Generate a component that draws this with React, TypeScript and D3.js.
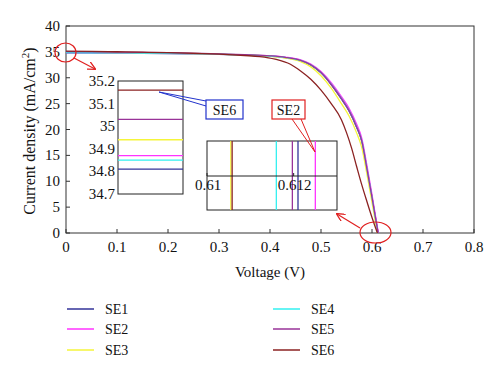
import React from "react";
import * as d3 from "d3";

const seriesNames = ["SE1", "SE2", "SE3", "SE4", "SE5", "SE6"];
const seriesColors = ["#333399", "#ff33ff", "#f5f53a", "#33f0f0", "#993399", "#8b2222"];

const voltagesA = [0, 0.05, 0.1, 0.15, 0.2, 0.25, 0.3, 0.35, 0.4, 0.43, 0.46, 0.48, 0.5, 0.52, 0.54, 0.555, 0.57, 0.58, 0.59, 0.6, 0.605];
const voltagesB = [0, 0.05, 0.1, 0.15, 0.2, 0.25, 0.3, 0.35, 0.38, 0.41, 0.44, 0.46, 0.48, 0.5, 0.52, 0.54, 0.55, 0.56, 0.57, 0.58, 0.59, 0.6];

const vocs = [0.6121, 0.6125, 0.61055, 0.6116, 0.61197, 0.61058];

const jSE1 = [34.81, 34.79, 34.76, 34.73, 34.68, 34.6, 34.5, 34.36, 34.16, 33.88, 33.3, 32.45, 30.95, 28.7, 25.9, 23.6, 20.4, 17.7, 12.4, 6.9, 4.0, 0];
const jSE2 = [34.87, 34.85, 34.82, 34.79, 34.74, 34.67, 34.57, 34.43, 34.24, 33.98, 33.45, 32.65, 31.2, 29.05, 26.35, 24.1, 21.0, 18.3, 13.1, 7.4, 4.4, 0];
const jSE3 = [34.94, 34.91, 34.87, 34.83, 34.77, 34.69, 34.57, 34.4, 34.15, 33.8, 33.1, 32.1, 30.4, 28.0, 25.0, 22.6, 19.3, 16.5, 11.4, 5.9, 3.1, 0];
const jSE4 = [34.85, 34.83, 34.8, 34.77, 34.72, 34.65, 34.55, 34.4, 34.2, 33.92, 33.35, 32.5, 31.0, 28.75, 26.0, 23.7, 20.5, 17.8, 12.5, 6.9, 3.9, 0];
const jSE5 = [35.03, 35.0, 34.96, 34.91, 34.84, 34.75, 34.63, 34.46, 34.24, 33.94, 33.35, 32.5, 31.0, 28.7, 25.95, 23.65, 20.45, 17.75, 12.45, 6.9, 4.0, 0];
const jSE6 = [35.16, 35.1, 35.02, 34.94, 34.85, 34.72, 34.55, 34.3, 34.1, 33.6, 32.6, 31.3, 29.7, 27.6, 25.0, 21.9, 19.4, 16.4, 12.8, 9.3, 6.1, 3.0, 0];

const currents = [jSE1, jSE2, jSE3, jSE4, jSE5, jSE6];

const xTicks = [0, 0.1, 0.2, 0.3, 0.4, 0.5, 0.6, 0.7, 0.8];
const yTicks = [0, 5, 10, 15, 20, 25, 30, 35, 40];
const inset1Ticks = [34.7, 34.8, 34.9, 35, 35.1, 35.2];
const inset2Ticks = [0.61, 0.612];

const FONT = "'Liberation Serif', 'Times New Roman', serif";

export default function App() {
  const x = d3.scaleLinear().domain([0, 0.8]).range([66, 474]);
  const y = d3.scaleLinear().domain([0, 40]).range([233, 26]);

  const series = seriesNames.map((name, i) => {
    const volts = i === 5 ? voltagesB : voltagesA;
    const pts = volts.concat([vocs[i]]).map((v, k) => [v, currents[i][k]] as [number, number]);
    return { name, color: seriesColors[i], pts, jsc: currents[i][0], voc: vocs[i] };
  });

  const line = d3
    .line<[number, number]>()
    .x((d) => x(d[0]))
    .y((d) => y(d[1]))
    .curve(d3.curveMonotoneX);

  // inset 1: Jsc zoom
  const i1x0 = 118, i1x1 = 183;
  const i1y = d3.scaleLinear().domain([34.7, 35.2]).range([194, 81]);
  // inset 2: Voc zoom
  const i2x = d3.scaleLinear().domain([0.61, 0.613]).range([207, 337]);
  const i2y0 = 141, i2y1 = 210, i2mid = 176;

  const legendX = [67, 273];
  const legendY = [309, 329, 350];

  return (
    <svg width={500} height={378} style={{ position: "absolute", left: 0, top: 0, background: "#fff" }} fontFamily={FONT}>
      <defs>
        <marker id="arrRed" viewBox="0 0 10 10" refX="9" refY="5" markerWidth="7" markerHeight="7" orient="auto">
          <path d="M0,0 L10,5 L0,10" fill="none" stroke="#e02020" strokeWidth={1.5} />
        </marker>
        <clipPath id="plotClip">
          <rect x={66} y={26} width={408} height={207} />
        </clipPath>
      </defs>

      {/* frame */}
      <rect x={66} y={26} width={408} height={207} fill="none" stroke="#333" strokeWidth={1} />

      {/* y ticks */}
      {yTicks.map((t) => (
        <g key={"y" + t}>
          <line x1={66} x2={70} y1={y(t)} y2={y(t)} stroke="#333" />
          <text x={60} y={y(t) + 5} textAnchor="end" fontSize={15} fill="#111">
            {t}
          </text>
        </g>
      ))}
      {/* x ticks */}
      {xTicks.map((t) => (
        <g key={"x" + t}>
          <line x1={x(t)} x2={x(t)} y1={233} y2={229} stroke="#333" />
          <text x={x(t)} y={252} textAnchor="middle" fontSize={15} fill="#111">
            {t}
          </text>
        </g>
      ))}

      {/* curves */}
      <g clipPath="url(#plotClip)">
        {series.map((s) => (
          <path key={s.name} d={line(s.pts) || ""} fill="none" stroke={s.color} strokeWidth={1.3} />
        ))}
      </g>

      {/* inset 1 */}
      <rect x={i1x0} y={81} width={i1x1 - i1x0} height={113} fill="#fff" stroke="#222" strokeWidth={1} />
      {series.map((s) => (
        <line key={"i1" + s.name} x1={i1x0} x2={i1x1} y1={i1y(s.jsc)} y2={i1y(s.jsc)} stroke={s.color} strokeWidth={1.3} />
      ))}
      {inset1Ticks.map((t) => (
        <text key={"i1t" + t} x={115} y={i1y(t) + 5} textAnchor="end" fontSize={15} fill="#111">
          {t}
        </text>
      ))}

      {/* inset 2 */}
      <rect x={207} y={i2y0} width={130} height={i2y1 - i2y0} fill="#fff" stroke="#222" strokeWidth={1} />
      {series.map((s) => (
        <line key={"i2" + s.name} x1={i2x(s.voc)} x2={i2x(s.voc)} y1={i2y0} y2={i2y1} stroke={s.color} strokeWidth={1.3} />
      ))}
      <line x1={207} x2={337} y1={i2mid} y2={i2mid} stroke="#222" strokeWidth={1} />
      {inset2Ticks.map((t) => (
        <g key={"i2t" + t}>
          <line x1={i2x(t)} x2={i2x(t)} y1={i2mid} y2={i2mid - 3} stroke="#222" />
          <text x={i2x(t) + 1} y={i2mid + 14} textAnchor="middle" fontSize={15} fill="#111">
            {t}
          </text>
        </g>
      ))}

      {/* red annotations */}
      <ellipse cx={65.5} cy={52.5} rx={10.5} ry={9.5} fill="none" stroke="#e02020" strokeWidth={1.2} />
      <line x1={74} y1={58} x2={95} y2={69} stroke="#e02020" strokeWidth={1.2} markerEnd="url(#arrRed)" />
      <ellipse cx={375.5} cy={232.5} rx={15.5} ry={10.5} fill="none" stroke="#e02020" strokeWidth={1.2} />
      <line x1={360} y1={228} x2={337} y2={214} stroke="#e02020" strokeWidth={1.2} markerEnd="url(#arrRed)" />

      {/* SE6 callout */}
      <path d="M159,92 L206,101 M159,92 L206,106" stroke="#2233cc" strokeWidth={1} fill="none" />
      <rect x={206} y={100} width={37} height={19} fill="#fff" stroke="#2233cc" strokeWidth={1.2} />
      <text x={224.5} y={115} textAnchor="middle" fontSize={14} fill="#111">
        SE6
      </text>

      {/* SE2 callout */}
      <path d="M292,119 L315,152 M301,119 L315,152" stroke="#e02020" strokeWidth={1} fill="none" />
      <rect x={272} y={100} width={33} height={19} fill="#fff" stroke="#e02020" strokeWidth={1.2} />
      <text x={288.5} y={115} textAnchor="middle" fontSize={14} fill="#111">
        SE2
      </text>

      {/* axis titles */}
      <text x={270} y={277} textAnchor="middle" fontSize={15} fill="#111">
        Voltage (V)
      </text>
      <text transform="translate(35,131) rotate(-90)" textAnchor="middle" fontSize={16} fill="#111">
        Current density (mA/cm
        <tspan dy={-6} fontSize={11}>2</tspan>
        <tspan dy={6}>)</tspan>
      </text>

      {/* legend */}
      {series.map((s, i) => {
        const col = Math.floor(i / 3);
        const row = i % 3;
        const lx = legendX[col];
        const ly = legendY[row];
        return (
          <g key={"lg" + s.name}>
            <line x1={lx} x2={lx + 27} y1={ly} y2={ly} stroke={s.color} strokeWidth={1.5} />
            <text x={lx + 38} y={ly + 5} fontSize={14} fill="#111">
              {s.name}
            </text>
          </g>
        );
      })}
    </svg>
  );
}
